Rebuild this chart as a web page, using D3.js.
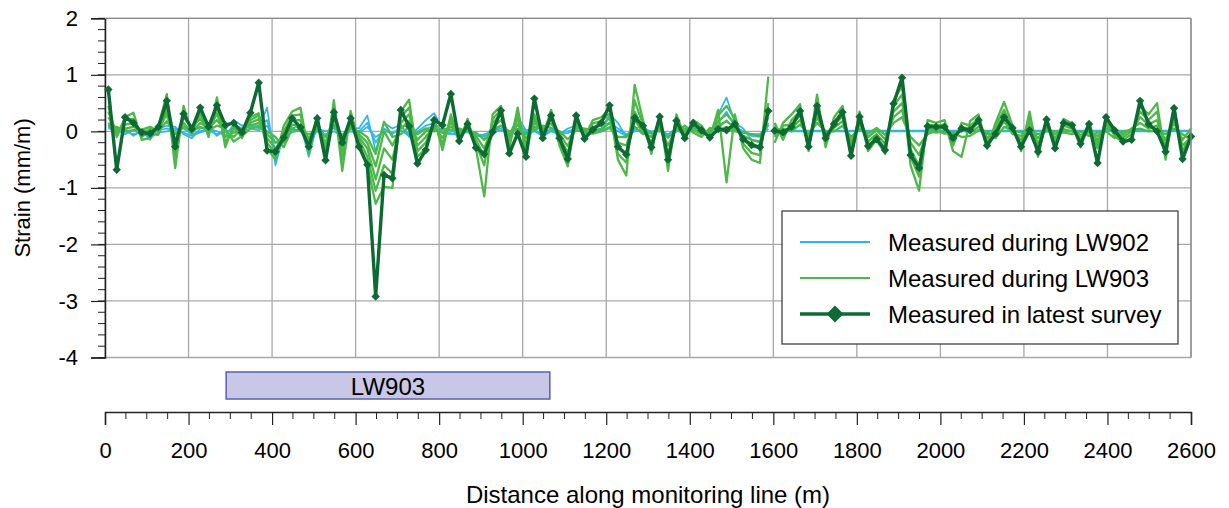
<!DOCTYPE html>
<html>
<head>
<meta charset="utf-8">
<script src="https://cdn.jsdelivr.net/npm/d3@7/dist/d3.min.js"></script>
<style>
  html, body { margin: 0; padding: 0; background: #fff; }
  svg { display: block; font-family: "Liberation Sans", Arial, sans-serif; }
</style>
</head>
<body>
<svg id="chart" width="1229" height="508"></svg>
<script>
// Survey pegs: two runs of the monitoring line with a short break near 1600 m
const distA = d3.range(8, 1600, 20);                       // 80 pegs
const distB = d3.range(50).map(i => 1603 + i * 20.35);     // 50 pegs

// Latest survey (mm/m)
const latestA = [
  0.74,-0.68,0.25,0.15,-0.02,-0.04,0.08,0.54,-0.27,0.31,
  0.04,0.42,0.08,0.46,0.11,0.15,-0.02,0.33,0.86,-0.34,
  -0.36,-0.11,0.23,0.07,-0.27,0.23,-0.51,0.34,-0.2,0.23,
  -0.27,-0.59,-2.92,-0.77,-0.83,0.38,0.09,-0.57,-0.33,0.2,
  0.11,0.66,-0.17,0.13,-0.29,-0.4,-0.01,0.37,-0.39,-0.04,
  -0.45,0.58,-0.12,0.28,-0.12,-0.49,0.28,-0.13,0.03,0.15,
  0.46,-0.27,-0.41,0.24,0.1,-0.28,0.26,-0.5,0.19,-0.12,
  0.15,0.02,-0.11,0.04,0.02,0.13,-0.14,-0.24,-0.28,0.36
];
const latestB = [
  0.01,-0.02,0.08,0.36,-0.27,0.45,-0.12,0.13,0.34,-0.43,
  0.26,-0.26,-0.14,-0.33,0.49,0.95,-0.42,-0.65,0.09,0.08,
  0.08,-0.12,0.05,0.02,0.2,-0.25,-0.04,0.25,0.06,-0.27,
  0.02,-0.36,0.21,-0.3,0.15,0.11,-0.22,0.13,-0.56,0.25,
  0.02,-0.18,-0.15,0.54,0.13,0.0,-0.36,0.41,-0.49,-0.09
];

// Surveys taken during LW903
const lw903A = [
  [0.45,-0.1,0.25,0.33,-0.15,-0.12,0.1,0.66,-0.65,0.45,
   -0.05,0.35,-0.1,0.6,-0.28,0.12,-0.12,0.25,0.32,-0.3,
   -0.5,0.1,0.35,0.42,-0.4,0.28,-0.5,0.55,-0.7,0.36,
   -0.2,-0.6,-1.28,-0.98,-1.0,0.35,0.56,-0.45,-0.3,0.22,
   -0.33,0.3,-0.2,0.22,-0.3,-1.15,0.3,0.45,-0.3,0.42,
   -0.4,0.3,-0.1,0.38,-0.25,-0.62,0.3,-0.1,0.2,0.25,
   0.4,-0.5,-0.78,0.82,0.2,-0.4,0.3,-0.7,0.3,-0.1,
   0.2,0.1,-0.12,0.38,-0.9,0.3,-0.3,-0.5,-0.56,0.97],
  [0.35,-0.05,0.2,0.22,-0.1,0.05,0.02,0.5,-0.45,0.35,
   0.02,0.3,-0.05,0.45,-0.2,0.05,-0.05,0.2,0.28,-0.2,
   -0.4,0.0,0.28,0.3,-0.32,0.2,-0.4,0.45,-0.5,0.3,
   -0.15,-0.45,-1.05,-0.6,-0.75,0.25,0.42,-0.35,-0.2,0.16,
   -0.22,0.22,-0.12,0.16,-0.22,-0.6,0.22,0.38,-0.22,0.32,
   -0.3,0.22,-0.05,0.3,-0.18,-0.5,0.22,-0.05,0.14,0.18,
   0.32,-0.4,-0.55,0.55,0.12,-0.3,0.22,-0.55,0.22,-0.05,
   0.14,0.05,-0.08,0.28,0.45,0.22,-0.22,-0.38,-0.42,0.5],
  [0.25,0.0,0.12,0.15,-0.05,-0.05,-0.06,0.4,-0.3,0.25,
   0.08,0.22,0.0,0.32,-0.1,-0.02,0.0,0.15,0.22,-0.12,
   -0.3,-0.1,0.2,0.2,-0.22,0.14,-0.3,0.35,-0.35,0.2,
   -0.1,-0.3,-0.85,-0.3,-0.5,0.15,0.3,-0.25,-0.1,0.1,
   -0.12,0.15,-0.05,0.1,-0.15,-0.45,0.15,0.3,-0.15,0.22,
   -0.22,0.15,0.0,0.22,-0.1,-0.38,0.15,0.0,0.08,0.1,
   0.24,-0.3,-0.4,0.35,0.05,-0.2,0.15,-0.4,0.14,0.0,
   0.08,0.0,-0.03,0.18,0.3,0.14,-0.15,-0.26,-0.3,0.38],
  [0.15,0.05,0.05,0.08,0.0,0.02,0.05,0.3,-0.15,0.15,
   -0.02,0.15,0.05,0.2,0.0,-0.1,0.05,0.1,0.15,-0.05,
   -0.2,-0.2,0.12,0.1,-0.12,0.08,-0.2,0.22,-0.2,0.12,
   -0.05,-0.2,-0.62,0.0,-0.25,0.05,0.18,-0.15,0.0,0.05,
   -0.02,0.08,0.0,0.05,-0.08,-0.3,0.08,0.2,-0.08,0.12,
   -0.12,0.08,0.05,0.14,-0.05,-0.26,0.08,0.05,0.02,0.04,
   0.15,-0.2,-0.25,0.2,0.0,-0.1,0.08,-0.25,0.07,0.05,
   0.03,-0.05,0.02,0.1,0.18,0.06,-0.08,-0.15,-0.18,0.25],
  [0.1,0.08,0.0,0.02,0.03,0.08,0.0,0.18,-0.05,0.08,
   0.0,0.08,0.02,0.1,0.05,-0.18,-0.08,0.05,0.08,0.0,
   -0.1,-0.28,0.05,0.0,-0.05,0.02,-0.1,0.1,-0.08,0.05,
   0.0,-0.1,-0.4,0.17,-0.1,-0.05,0.08,-0.05,0.05,0.0,
   0.05,0.02,0.05,0.0,-0.02,-0.15,0.0,0.1,0.0,0.04,
   -0.05,0.02,0.1,0.06,0.0,-0.14,0.02,-0.02,-0.04,0.0,
   0.06,-0.1,-0.1,0.08,-0.05,-0.02,0.02,-0.1,0.0,0.1,
   -0.02,-0.1,0.06,0.02,0.08,0.0,-0.02,-0.05,-0.08,0.12]
];
const lw903B = [
  [-0.2,0.15,0.3,0.48,-0.35,0.65,-0.28,0.25,0.45,-0.45,
   0.35,-0.35,-0.15,-0.4,0.55,0.8,-0.6,-1.05,0.2,0.15,
   0.2,-0.35,-0.45,0.18,0.3,-0.3,0.15,0.52,0.1,-0.35,
   0.35,-0.45,0.25,-0.28,0.22,0.14,-0.28,0.15,-0.3,0.22,
   -0.08,-0.2,-0.12,0.45,0.3,0.5,-0.5,0.45,-0.45,0.0],
  [0.15,-0.15,0.2,0.35,-0.28,0.45,-0.2,0.18,0.35,-0.35,
   0.28,-0.26,-0.1,-0.3,0.45,0.65,-0.45,-0.8,0.12,0.1,
   0.12,-0.25,0.15,0.1,0.22,-0.2,0.08,0.38,0.05,-0.25,
   0.25,-0.32,0.18,-0.2,0.16,0.1,-0.2,0.1,-0.22,0.16,
   -0.05,-0.15,-0.05,0.35,0.2,0.35,-0.38,0.35,-0.35,-0.05],
  [-0.1,0.1,0.12,0.28,-0.2,0.35,-0.12,0.12,0.26,-0.26,
   0.2,-0.18,-0.05,-0.22,0.35,0.5,-0.32,-0.6,0.05,0.04,
   0.06,-0.15,0.08,0.04,0.15,-0.12,0.02,0.28,0.0,-0.15,
   0.15,-0.22,0.12,-0.12,0.1,0.05,-0.12,0.04,-0.15,0.1,
   0.0,-0.1,0.0,0.25,0.12,0.2,-0.26,0.25,-0.25,-0.1],
  [0.1,-0.05,0.05,0.2,-0.12,0.25,-0.05,0.06,0.18,-0.18,
   0.12,-0.1,0.02,-0.14,0.25,0.38,-0.2,-0.42,0.0,-0.02,
   0.0,-0.08,0.02,-0.02,0.08,-0.05,-0.05,0.18,-0.05,-0.08,
   0.08,-0.12,0.06,-0.05,0.04,0.0,-0.06,-0.02,-0.08,0.05,
   0.04,-0.05,0.05,0.15,0.05,0.1,-0.15,0.15,-0.15,0.05],
  [0.0,0.05,0.0,0.12,-0.05,0.15,0.0,0.0,0.1,-0.1,
   0.05,-0.04,0.06,-0.06,0.15,0.25,-0.1,-0.25,-0.05,0.02,
   -0.04,-0.02,-0.1,-0.08,0.02,0.0,-0.12,0.08,0.02,-0.02,
   0.0,-0.05,0.0,0.0,-0.02,-0.05,0.0,-0.08,-0.02,0.0,
   -0.12,0.0,0.02,0.05,0.0,0.02,-0.05,0.05,-0.05,-0.15]
];

// Surveys taken during LW902
const lw902A = [
  [0.12,-0.05,0.05,-0.08,0.02,-0.15,0.05,0.1,0.08,-0.05,
   -0.12,0.05,0.08,-0.08,0.05,0.2,0.1,0.12,0.05,0.42,
   -0.6,-0.05,0.05,0.12,-0.45,0.12,-0.08,0.12,-0.1,0.08,
   0.05,0.28,-0.35,0.15,0.05,0.12,-0.1,0.05,0.2,0.32,
   0.05,0.02,-0.05,0.0,-0.05,-0.1,0.05,0.1,-0.05,0.25,
   0.02,0.05,-0.1,0.02,-0.05,0.05,0.1,-0.02,0.05,0.0,
   0.3,0.15,-0.1,0.05,0.1,-0.05,0.05,-0.12,0.08,0.0,
   0.1,0.05,-0.05,0.3,0.6,0.15,0.05,-0.15,-0.2,0.15],
  [0.05,0.02,-0.05,0.03,-0.08,-0.05,0.02,0.05,0.02,0.05,
   -0.05,0.0,0.05,0.0,-0.08,0.12,0.05,0.08,0.1,0.2,
   -0.35,0.02,0.0,0.05,-0.25,0.05,0.0,0.05,-0.05,0.05,
   0.0,0.15,-0.2,0.05,-0.05,0.08,-0.05,0.0,0.1,0.15,
   0.0,-0.03,-0.08,0.02,-0.1,-0.05,0.0,0.05,-0.08,0.12,
   0.0,0.02,-0.05,0.05,-0.02,0.0,0.05,0.02,0.0,0.05,
   0.15,0.05,-0.05,0.02,0.05,0.0,0.02,-0.05,0.05,-0.02,
   0.05,0.0,-0.02,0.15,0.35,0.08,0.0,-0.08,-0.1,0.05],
  [0.08,-0.02,0.0,-0.05,-0.02,-0.1,-0.02,0.0,0.05,-0.02,
   -0.08,-0.02,0.02,-0.05,-0.02,0.05,0.0,0.05,0.02,0.1,
   -0.2,-0.08,-0.02,0.02,-0.15,0.0,-0.05,0.0,-0.08,0.0,
   -0.03,0.08,-0.1,0.0,-0.02,0.02,-0.08,-0.03,0.05,0.08,
   -0.03,-0.05,-0.02,-0.02,-0.05,-0.08,-0.02,0.02,-0.03,0.05,
   -0.03,0.0,-0.08,0.0,-0.05,-0.03,0.02,-0.02,-0.03,0.02,
   0.08,0.0,-0.08,0.0,0.02,-0.03,0.0,-0.08,0.02,-0.05,
   0.02,-0.02,-0.05,0.05,0.2,0.03,-0.03,-0.05,-0.05,0.1]
];
const lw902B = [
  [0,0,0,0,0,0,0,0,0,0, 0,0,0,0,0,0,0,0,0,0, 0,0,0,0,0,0,0,0,0,0,
   0,0,0,0,0,0,0,0,0,0, 0,0,0,0,0,0,0,0,0,0],
  [0.015,0.015,0.015,0.015,0.015,0.015,0.015,0.015,0.015,0.015,
   0.015,0.015,0.015,0.015,0.015,0.015,0.015,0.015,0.015,0.015,
   0.015,0.015,0.015,0.015,0.015,0.015,0.015,0.015,0.015,0.015,
   0.015,0.015,0.015,0.015,0.015,0.015,0.015,0.015,0.015,0.015,
   0.015,0.015,0.015,0.015,0.015,0.015,0.015,0.015,0.015,0.015]
];

const yTicks = [2, 1, 0, -1, -2, -3, -4];
const xTicks = d3.range(0, 2601, 200);
const panel = { name: "LW903", start: 290, end: 1065 };
const legendItems = ["Measured during LW902", "Measured during LW903", "Measured in latest survey"];

const C = { blue: "#2cb6e9", green: "#4cb848", dark: "#0d6a34", grid: "#a8a8a8" };
const FONT = "'Liberation Sans', Arial, sans-serif";
const fmt = d => String(d);   // plain hyphen for negatives

const svg = d3.select("#chart");
const x = d3.scaleLinear().domain([0, 2600]).range([105, 1191]);
const y = d3.scaleLinear().domain([-4, 2]).range([357.5, 18.3]);

// grid
const grid = svg.append("g");
grid.selectAll("line.v").data(xTicks).join("line")
  .attr("x1", d => x(d)).attr("x2", d => x(d))
  .attr("y1", y(2)).attr("y2", y(-4))
  .attr("stroke", C.grid).attr("stroke-width", 1.3);
grid.selectAll("line.h").data(yTicks).join("line")
  .attr("x1", x(0)).attr("x2", x(2600))
  .attr("y1", d => y(d)).attr("y2", d => y(d))
  .attr("stroke", C.grid).attr("stroke-width", 1.3);

// left axis with minor ticks every 0.2
const yAxis = d3.axisLeft(y).tickValues(yTicks).tickSize(14).tickPadding(13).tickFormat(fmt);
const gy = svg.append("g").attr("transform", `translate(${x(0)},0)`).call(yAxis);
gy.select(".domain").attr("stroke", "#222").attr("stroke-width", 1.5);
gy.selectAll(".tick line").attr("stroke", "#222").attr("stroke-width", 1.2);
gy.selectAll(".tick text").attr("font-size", 22).attr("font-family", FONT).attr("fill", "#000");
svg.append("g").selectAll("line").data(d3.range(-4, 2.001, 0.2)).join("line")
  .attr("x1", x(0) - 7).attr("x2", x(0))
  .attr("y1", d => y(d)).attr("y2", d => y(d))
  .attr("stroke", "#222").attr("stroke-width", 1);

svg.append("text").attr("transform", `translate(22,${y(-1)}) rotate(-90)`)
  .attr("text-anchor", "middle").attr("dominant-baseline", "central")
  .attr("font-size", 22).attr("font-family", FONT).text("Strain (mm/m)");

// series
const clipId = "plotclip";
svg.append("clipPath").attr("id", clipId).append("rect")
  .attr("x", x(0)).attr("y", y(2)).attr("width", x(2600) - x(0)).attr("height", y(-4) - y(2));
const plot = svg.append("g").attr("clip-path", `url(#${clipId})`);

function lineFor(dist) {
  return d3.line().x((d, i) => x(dist[i])).y(d => y(d));
}
function drawSeries(list, dist, color, width) {
  plot.append("g").selectAll("path").data(list).join("path")
    .attr("d", lineFor(dist)).attr("fill", "none")
    .attr("stroke", color).attr("stroke-width", width).attr("stroke-linejoin", "round");
}
drawSeries(lw902A, distA, C.blue, 1.7);
drawSeries(lw902B, distB, C.blue, 1.7);
drawSeries(lw903A, distA, C.green, 2.3);
drawSeries(lw903B, distB, C.green, 2.3);
drawSeries([latestA], distA, C.dark, 3.4);
drawSeries([latestB], distB, C.dark, 3.4);

const diamond = r => `M0,${-r}L${r},0L0,${r}L${-r},0Z`;
const pts = latestA.map((v, i) => [distA[i], v]).concat(latestB.map((v, i) => [distB[i], v]));
svg.append("g").selectAll("path").data(pts).join("path")
  .attr("d", diamond(4.2)).attr("fill", C.dark)
  .attr("transform", d => `translate(${x(d[0])},${y(d[1])})`);

// frame top / right
svg.append("line").attr("x1", x(0)).attr("x2", x(2600)).attr("y1", y(2)).attr("y2", y(2))
  .attr("stroke", "#8a8a8a").attr("stroke-width", 1.3);
svg.append("line").attr("x1", x(2600)).attr("x2", x(2600)).attr("y1", y(2)).attr("y2", y(-4))
  .attr("stroke", "#8a8a8a").attr("stroke-width", 1.3);

// panel bar
svg.append("rect").attr("x", x(panel.start)).attr("y", 372)
  .attr("width", x(panel.end) - x(panel.start)).attr("height", 27)
  .attr("fill", "#c9c7e6").attr("stroke", "#5b5fb3").attr("stroke-width", 1.5);
svg.append("text").attr("x", (x(panel.start) + x(panel.end)) / 2).attr("y", 386)
  .attr("text-anchor", "middle").attr("dominant-baseline", "central")
  .attr("font-size", 24).attr("font-family", FONT).text(panel.name);

// bottom distance axis
const xAxis = d3.axisBottom(x).tickValues(xTicks).tickSize(13).tickPadding(17).tickFormat(fmt);
const gx = svg.append("g").attr("transform", "translate(0,412)").call(xAxis);
gx.select(".domain").attr("stroke", "#222").attr("stroke-width", 1.5);
gx.selectAll(".tick line").attr("stroke", "#222").attr("stroke-width", 1.2);
gx.selectAll(".tick text").attr("font-size", 22).attr("font-family", FONT).attr("fill", "#000");
svg.append("g").selectAll("line").data(d3.range(50, 2600, 50).filter(d => d % 200 !== 0)).join("line")
  .attr("x1", d => x(d)).attr("x2", d => x(d)).attr("y1", 412).attr("y2", 419)
  .attr("stroke", "#222").attr("stroke-width", 1);

svg.append("text").attr("x", (x(0) + x(2600)) / 2).attr("y", 494)
  .attr("text-anchor", "middle").attr("dominant-baseline", "central")
  .attr("font-size", 24).attr("font-family", FONT).text("Distance along monitoring line (m)");

// legend
const lg = svg.append("g");
lg.append("rect").attr("x", 782).attr("y", 211).attr("width", 396).attr("height", 133)
  .attr("fill", "#fff").attr("stroke", "#333").attr("stroke-width", 1.2);
const lgColors = [C.blue, C.green, C.dark];
const lgWidths = [2.2, 2.2, 3.4];
legendItems.forEach((t, i) => {
  const cy = 242 + i * 36;
  lg.append("line").attr("x1", 800).attr("x2", 870).attr("y1", cy).attr("y2", cy)
    .attr("stroke", lgColors[i]).attr("stroke-width", lgWidths[i]);
  if (i === 2) lg.append("path").attr("d", diamond(8.5)).attr("fill", C.dark)
    .attr("transform", `translate(835,${cy})`);
  lg.append("text").attr("x", 888).attr("y", cy).attr("dominant-baseline", "central")
    .attr("font-size", 24).attr("font-family", FONT).text(t);
});
</script>
</body>
</html>
